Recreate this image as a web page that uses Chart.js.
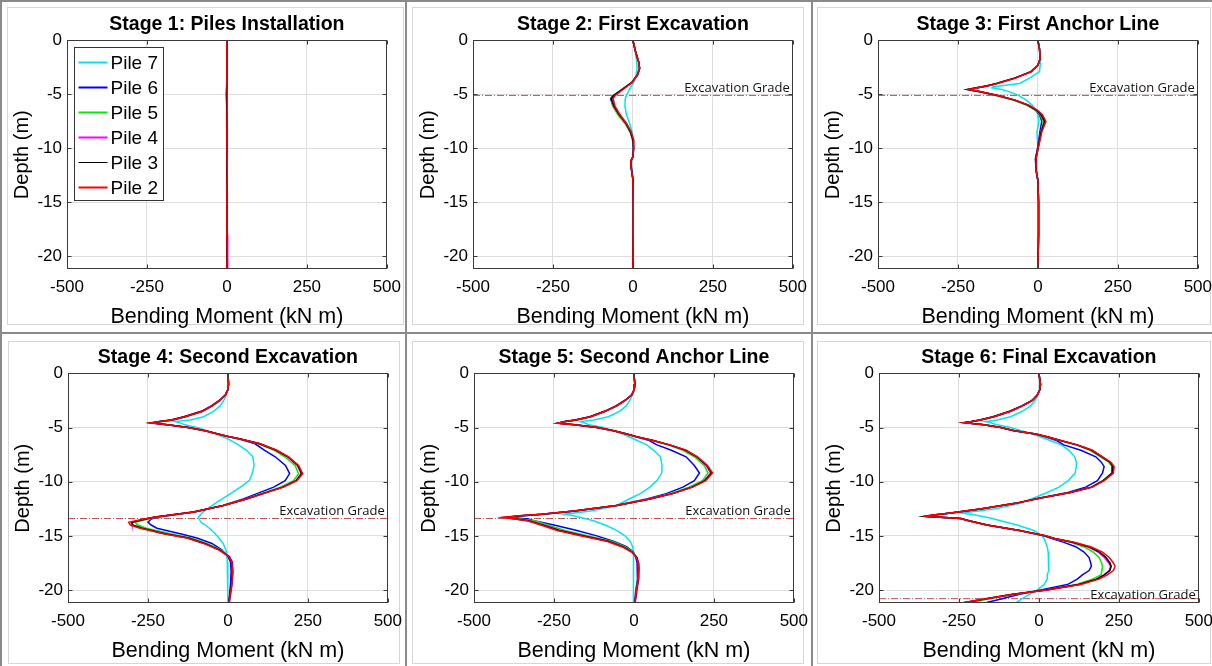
<!DOCTYPE html>
<html>
<head>
<meta charset="utf-8">
<script src="https://cdn.jsdelivr.net/npm/chart.js@4.4.0/dist/chart.umd.min.js"></script>
<style>
  html, body { margin: 0; padding: 0; background: #fff; }
  #page { position: relative; width: 1212px; height: 666px; overflow: hidden; background: #fff; }
  .frame { position: absolute; border: 1px solid #d6d6d6; box-sizing: border-box; }
  .sep { position: absolute; background: #8a8a8a; }
  canvas { position: absolute; }
</style>
</head>
<body>
<div id="page">
  <div class="frame" style="left:7px;top:7px;width:397px;height:318px"></div>
  <div class="frame" style="left:412px;top:7px;width:392px;height:318px"></div>
  <div class="frame" style="left:817px;top:7px;width:394px;height:318px"></div>
  <div class="frame" style="left:8px;top:341px;width:392px;height:323px"></div>
  <div class="frame" style="left:412px;top:341px;width:392px;height:323px"></div>
  <div class="frame" style="left:817px;top:341px;width:394px;height:323px"></div>
  <div class="sep" style="left:0;top:0;width:2px;height:666px"></div>
  <div class="sep" style="left:0;top:0;width:1212px;height:2px"></div>
  <div class="sep" style="left:405px;top:0;width:2px;height:666px"></div>
  <div class="sep" style="left:811px;top:0;width:2px;height:666px"></div>
  <div class="sep" style="left:0;top:332px;width:1212px;height:2px"></div>

  <canvas id="stage1" width="409" height="332" style="left:0px;top:0px"></canvas>
  <canvas id="stage2" width="409" height="332" style="left:406px;top:0px"></canvas>
  <canvas id="stage3" width="409" height="332" style="left:811px;top:0px"></canvas>
  <canvas id="stage4" width="409" height="333" style="left:1px;top:333px"></canvas>
  <canvas id="stage5" width="409" height="333" style="left:407px;top:333px"></canvas>
  <canvas id="stage6" width="409" height="333" style="left:812px;top:333px"></canvas>
</div>
<script>
// ---- data (bending moment in kN m, depth in m) ----
const xTicks = [-500, -250, 0, 250, 500];
const yTicks = [0, -5, -10, -15, -20];
const pileLabels = ['Pile 2', 'Pile 3', 'Pile 4', 'Pile 5', 'Pile 6', 'Pile 7'];
const stageTitles = [
    'Stage 1: Piles Installation',
    'Stage 2: First Excavation',
    'Stage 3: First Anchor Line',
    'Stage 4: Second Excavation',
    'Stage 5: Second Anchor Line',
    'Stage 6: Final Excavation'
];
const gradeDepths = [null, -5.1, -5.1, -13.4, -13.4, -20.8];

// Stage 1
const depth1 = [0, -2, -4, -5, -6, -8, -10, -12, -14, -16, -18, -20, -21.2];
const s1p2 = [0, 0, 0, 1, 1, 0, 0, 1, 0, 0, 0, 1, 0];
const s1p3 = [0, 0, 0, 0, 0, 0, 0, 0, 0, 0, -1, 0, 0];
const s1p4 = [0, 0, -1, -3, -1, 0, 0, 0, 0, 0, 1, 3, 2];
const s1p5 = [0, 0, 0, 0, 0, 1, 0, 0, 1, 0, 0, 0, 0];
const s1p6 = [0, 0, 0, 0, 0, 0, 0, 0, 0, 0, 0, 0, 0];
const s1p7 = [0, 0, 0, 0, 0, 0, 0, 0, 0, 1, 0, 0, -1];

// Stage 2
const depth2 = [0, -1, -2, -2.6, -3.2, -3.9, -4.6, -5.1, -5.4, -6.1, -6.9, -7.7, -8.5, -9.2, -10, -10.8, -11.2, -11.7, -12.9, -15, -18, -21.2];
const s2p2 = [0, 8, 18, 21, 14, -2, -33, -55, -62, -56, -40, -20, -5, 2, 3, 0, -7, -6, 0, 1, 1, 0];
const s2p3 = [0, 8, 18, 21, 14, -3, -36, -59, -68, -59, -42, -21, -7, 0, 2, 0, -7, -6, 0, 1, 1, 0];
const s2p4 = [0, 8, 18, 21, 14, -3, -35, -58, -66, -60, -43, -22, -7, 0, 2, 0, -7, -6, 0, 1, 1, 0];
const s2p5 = [0, 8, 17, 20, 13, -4, -37, -60, -68, -63, -47, -25, -9, -1, 1, 0, -7, -6, 0, 1, 1, 0];
const s2p6 = [0, 8, 18, 21, 15, -3, -37, -61, -70, -62, -44, -23, -8, -1, 1, 0, -6, -5, 0, 1, 1, 0];
const s2p7 = [0, 7, 12, 13, 10, 2, -12, -20, -24, -25, -20, -10, -3, 0, 1, 0, -4, -4, 0, 1, 1, 0];

// Stage 3
const depth3 = [0, -0.8, -1.7, -2.3, -2.9, -3.5, -4.0, -4.15, -4.3, -4.4, -4.55, -4.77, -5.08, -5.54, -6.0, -6.46, -6.9, -7.5, -8.5, -10, -11, -12, -13, -15, -18, -21.2];
const s3p2 = [0, 5, 7, 0, -20, -70, -127, -148, -170, -188, -215, -178, -127, -70, -28, -2, 14, 25, 12, 1, -6, -6, 0, 2, 2, 0];
const s3p3 = [0, 5, 7, 0, -21, -72, -129, -150, -172, -190, -219, -180, -129, -72, -31, -5, 10, 21, 10, 0, -7, -6, 0, 2, 2, 0];
const s3p4 = [0, 5, 7, 0, -21, -71, -128, -149, -171, -189, -220, -181, -130, -73, -31, -4, 12, 23, 11, 0, -7, -6, 0, 2, 2, 0];
const s3p5 = [0, 5, 7, 0, -22, -73, -131, -152, -175, -194, -222, -184, -134, -78, -36, -8, 7, 18, 9, 0, -7, -6, 0, 2, 2, 0];
const s3p6 = [0, 5, 7, 0, -22, -74, -131, -152, -174, -192, -218, -181, -130, -74, -33, -8, 5, 12, 6, -1, -8, -6, 0, 2, 2, 0];
const s3p7 = [0, 5, 8, 7, 5, -26, -57, -100, -139, -144, -113, -88, -62, -36, -18, -5, 0, 3, -3, 0, -5, -5, 0, 1, 1, 0];

// Stage 4
const depth4 = [0, -1, -1.5, -2, -2.5, -3, -3.5, -4, -4.3, -4.45, -4.57, -4.75, -5, -5.3, -5.6, -5.8, -6.05, -6.5, -7.1, -7.7,
    -8.5, -9.25, -9.9, -10.5, -11.1, -11.6, -12.2, -12.8, -13.25, -13.45, -13.75, -14, -14.3, -14.8, -15.2, -15.7, -16.3, -16.9, -17.4, -18.3,
    -19.5, -20.5, -21.2];
const s4p2 = [0, 2, 0, -8, -26, -50, -80, -135, -175, -212, -241, -191, -125, -72, -32, -3, 39, 101, 153, 190,
    221, 234, 216, 174, 111, 59, -14, -107, -227, -262, -310, -305, -274, -201, -128, -76, -29, 2, 12, 15, 12, 7, 4];
const s4p3 = [0, 2, 0, -8, -26, -50, -81, -136, -176, -213, -240, -190, -124, -71, -31, -2, 40, 100, 151, 188,
    219, 231, 214, 172, 110, 58, -14, -108, -228, -258, -300, -298, -268, -196, -124, -73, -27, 3, 12, 14, 11, 6, 3];
const s4p4 = [0, 2, 0, -8, -25, -49, -79, -133, -172, -208, -236, -188, -124, -72, -32, -3, 38, 99, 150, 186,
    217, 229, 212, 171, 109, 57, -15, -107, -226, -256, -302, -300, -270, -198, -126, -72, -25, 5, 14, 16, 13, 8, 4];
const s4p5 = [0, 2, 0, -8, -25, -49, -79, -132, -170, -205, -232, -186, -122, -70, -31, -3, 36, 95, 145, 178,
    210, 221, 205, 164, 103, 55, -16, -108, -222, -248, -290, -282, -255, -180, -115, -65, -22, 4, 12, 14, 12, 7, 4];
const s4p6 = [0, 2, 0, -8, -27, -52, -83, -138, -178, -214, -238, -189, -124, -71, -31, -4, 35, 85, 115, 148,
    180, 193, 179, 143, 91, 48, -16, -105, -215, -240, -250, -240, -222, -149, -97, -50, -19, 0, 8, 10, 8, 5, 3];
const s4p7 = [0, 2, 0, -5, -13, -24, -45, -76, -118, -165, -150, -135, -97, -65, -35, -20, 0, 28, 58, 78,
    82, 76, 67, 39, 8, -19, -50, -78, -92, -90, -84, -71, -58, -40, -28, -15, -6, -3, -2, -1, 0, 0, 0];

// Stage 5
const depth5 = [0, -1, -1.5, -2, -2.5, -3, -3.5, -4, -4.3, -4.45, -4.6, -4.75, -5, -5.3, -5.6, -5.85, -6.2, -6.6, -7.1, -7.7,
    -8.5, -9.2, -9.9, -10.5, -11.1, -11.6, -12.2, -12.7, -13.0, -13.15, -13.3, -13.45, -13.6, -14, -14.5, -15, -15.5, -16, -16.5, -17,
    -17.5, -18, -19, -20, -21.2];
const s5p2 = [0, 3, 1, -7, -28, -54, -90, -136, -182, -215, -240, -188, -116, -64, -23, 8, 60, 112, 163, 199,
    230, 246, 225, 184, 122, 50, -54, -188, -291, -360, -410, -374, -333, -291, -240, -167, -85, -38, -7, 8, 13, 15, 13, 8, 3];
const s5p3 = [0, 3, 1, -7, -28, -55, -91, -137, -183, -216, -238, -186, -115, -63, -22, 9, 61, 112, 162, 197,
    228, 243, 222, 182, 121, 50, -53, -186, -288, -355, -405, -370, -330, -286, -233, -160, -80, -35, -6, 9, 13, 15, 13, 8, 3];
const s5p4 = [0, 3, 1, -7, -27, -53, -89, -135, -180, -213, -236, -185, -115, -64, -23, 8, 59, 110, 160, 196,
    226, 240, 220, 180, 120, 49, -54, -186, -287, -352, -400, -366, -325, -282, -230, -158, -80, -34, -5, 10, 15, 17, 15, 10, 4];
const s5p5 = [0, 3, 1, -7, -27, -53, -89, -134, -178, -210, -233, -183, -114, -63, -23, 7, 57, 106, 153, 189,
    220, 232, 214, 172, 113, 46, -55, -185, -285, -350, -395, -355, -310, -270, -215, -145, -70, -28, -3, 9, 13, 14, 12, 7, 3];
const s5p6 = [0, 3, 1, -8, -29, -56, -92, -138, -184, -216, -236, -184, -114, -62, -22, 6, 48, 72, 117, 163,
    189, 205, 189, 153, 101, 40, -58, -186, -284, -345, -385, -330, -312, -250, -178, -116, -64, -23, -2, 6, 10, 12, 10, 6, 2];
const s5p7 = [0, 2, 0, -5, -13, -24, -45, -80, -125, -167, -152, -140, -95, -65, -35, -15, 10, 40, 62, 83,
    88, 87, 72, 50, 20, -15, -54, -135, -219, -188, -167, -147, -126, -90, -54, -28, -12, -4, -1, 0, -1, -2, -2, -2, -2];

// Stage 6
const depth6 = [0, -1, -1.5, -2, -2.5, -3, -3.5, -4, -4.3, -4.45, -4.55, -4.75, -5, -5.3, -5.6, -5.85, -6.2, -6.6, -7.1, -7.7,
    -8.2, -8.6, -9.2, -9.9, -10.5, -11, -11.5, -12, -12.5, -12.9, -13.05, -13.2, -13.4, -13.6, -14, -14.5, -15, -15.3, -15.6, -16,
    -16.5, -17, -17.5, -17.8, -18.2, -18.6, -19, -19.5, -20, -20.4, -20.8, -21.2];
const s6p2 = [0, 5, 3, -5, -21, -52, -89, -141, -183, -210, -235, -173, -120, -78, -10, 26, 68, 120, 167, 199,
    225, 235, 233, 204, 167, 99, 5, -73, -178, -277, -324, -361, -246, -220, -164, -61, 21, 58, 110, 162,
    199, 220, 233, 238, 233, 214, 188, 131, 26, -80, -165, -244];
const s6p3 = [0, 5, 3, -5, -21, -52, -90, -142, -184, -211, -233, -172, -119, -77, -10, 26, 68, 119, 165, 197,
    222, 231, 229, 201, 165, 98, 5, -74, -178, -275, -322, -356, -244, -219, -162, -60, 20, 56, 106, 155,
    190, 210, 222, 226, 222, 204, 180, 125, 22, -82, -165, -240];
const s6p4 = [0, 5, 3, -5, -20, -51, -88, -140, -181, -208, -232, -171, -119, -77, -10, 25, 67, 119, 166, 198,
    224, 234, 232, 203, 166, 98, 5, -73, -177, -275, -322, -358, -245, -219, -162, -60, 20, 55, 105, 152,
    185, 205, 218, 224, 220, 205, 180, 125, 24, -80, -165, -240];
const s6p5 = [0, 5, 3, -5, -20, -51, -88, -139, -180, -207, -230, -170, -118, -76, -10, 24, 65, 115, 160, 192,
    218, 229, 228, 200, 163, 96, 4, -74, -177, -274, -320, -355, -243, -218, -161, -60, 19, 52, 98, 140,
    170, 188, 196, 199, 197, 194, 167, 115, 20, -75, -155, -218];
const s6p6 = [0, 5, 3, -5, -22, -54, -92, -144, -186, -212, -233, -172, -119, -77, -12, 20, 55, 78, 131, 178,
    195, 204, 199, 183, 146, 90, 3, -75, -178, -276, -322, -358, -244, -219, -163, -62, 15, 45, 78, 115,
    141, 157, 162, 164, 157, 136, 120, 89, 5, -60, -115, -170];
const s6p7 = [0, 3, 2, -3, -12, -26, -52, -89, -131, -167, -150, -131, -89, -55, -20, 5, 35, 70, 94, 112,
    117, 117, 113, 92, 63, 26, -16, -58, -135, -240, -205, -178, -146, -120, -68, -16, 10, 17, 21, 26,
    29, 31, 31, 31, 30, 26, 26, 16, -5, -30, -52, -73];

// ---- styling ----
const FONT = '"Liberation Sans", Arial, sans-serif';
const pileColors = ['#ff0000', '#000000', '#ff00ff', '#00ee00', '#0000ff', '#00e5ee'];
const gradeColor = '#c05050';

const stages = [
    { id: 'stage1', depth: depth1, piles: [s1p2, s1p3, s1p4, s1p5, s1p6, s1p7] },
    { id: 'stage2', depth: depth2, piles: [s2p2, s2p3, s2p4, s2p5, s2p6, s2p7] },
    { id: 'stage3', depth: depth3, piles: [s3p2, s3p3, s3p4, s3p5, s3p6, s3p7] },
    { id: 'stage4', depth: depth4, piles: [s4p2, s4p3, s4p4, s4p5, s4p6, s4p7] },
    { id: 'stage5', depth: depth5, piles: [s5p2, s5p3, s5p4, s5p5, s5p6, s5p7] },
    { id: 'stage6', depth: depth6, piles: [s6p2, s6p3, s6p4, s6p5, s6p6, s6p7] }
];

// box, inner ticks, grade label and legend, drawn MATLAB style
const matlabAxes = {
    id: 'matlabAxes',
    afterDatasetsDraw(chart, args, opts) {
        const { ctx, chartArea: a, scales: { x, y } } = chart;
        ctx.save();
        ctx.strokeStyle = '#3a3a3a';
        ctx.lineWidth = 1;
        const l = Math.round(a.left) + 0.5, t = Math.round(a.top) + 0.5;
        const r = Math.round(a.right) - 0.5, b = Math.round(a.bottom) - 0.5;
        ctx.strokeRect(l, t, r - l, b - t);
        ctx.beginPath();
        xTicks.forEach(v => {
            const px = Math.round(x.getPixelForValue(v)) + 0.5;
            ctx.moveTo(px, b); ctx.lineTo(px, b - 4);
            ctx.moveTo(px, t); ctx.lineTo(px, t + 4);
        });
        yTicks.forEach(v => {
            const py = Math.round(y.getPixelForValue(v)) + 0.5;
            ctx.moveTo(l, py); ctx.lineTo(l + 4, py);
            ctx.moveTo(r, py); ctx.lineTo(r - 4, py);
        });
        ctx.stroke();

        if (opts.grade != null) {
            const gy = y.getPixelForValue(opts.grade);
            ctx.fillStyle = '#111';
            ctx.font = '13px "Open Sans", sans-serif';
            ctx.textAlign = 'right';
            ctx.textBaseline = 'middle';
            ctx.fillText('Excavation Grade', a.right - 3, gy - opts.lift);
        }

        if (opts.legend) {
            const bx = Math.round(a.left) + 7.5, by = Math.round(a.top) + 7.5;
            ctx.fillStyle = '#fff';
            ctx.fillRect(bx, by, 89, 153);
            ctx.strokeStyle = '#333';
            ctx.strokeRect(bx, by, 89, 153);
            ctx.font = '19px ' + FONT;
            ctx.textAlign = 'left';
            ctx.textBaseline = 'middle';
            const items = chart.data.datasets.filter(d => !d.isGrade).slice().reverse();
            items.forEach((d, i) => {
                const ry = by + 15 + i * 25;
                ctx.strokeStyle = d.borderColor;
                ctx.lineWidth = d.label === 'Pile 3' ? 1 : 2;
                ctx.beginPath();
                ctx.moveTo(bx + 4, ry); ctx.lineTo(bx + 33, ry);
                ctx.stroke();
                ctx.fillStyle = '#000';
                ctx.fillText(d.label, bx + 36, ry + 1);
            });
        }
        ctx.restore();
    }
};

function makeChart(stage, index) {
    const datasets = stage.piles.map((values, i) => ({
        label: pileLabels[i],
        data: values.map((m, k) => ({ x: m, y: stage.depth[k] })),
        borderColor: pileColors[i],
        borderWidth: 1.5,
        pointRadius: 0,
        showLine: true,
        tension: 0
    }));
    const grade = gradeDepths[index];
    if (grade != null) {
        datasets.push({
            label: 'Excavation Grade',
            isGrade: true,
            data: [{ x: -500, y: grade }, { x: 500, y: grade }],
            borderColor: gradeColor,
            borderWidth: 1,
            borderDash: [7, 2, 1, 2],
            pointRadius: 0,
            showLine: true
        });
    }

    new Chart(document.getElementById(stage.id), {
        type: 'scatter',
        data: { datasets },
        plugins: [matlabAxes],
        options: {
            responsive: false,
            animation: false,
            devicePixelRatio: 1,
            events: [],
            layout: { padding: { left: 0, right: 22, top: 0, bottom: 0 } },
            plugins: {
                legend: { display: false },
                tooltip: { enabled: false },
                title: {
                    display: true,
                    fullSize: false,
                    text: stageTitles[index],
                    color: '#000',
                    font: { family: FONT, size: 19.5, weight: 'bold' },
                    padding: { top: 13, bottom: 4 }
                },
                matlabAxes: { grade, lift: index === 5 ? 3.5 : 7.5, legend: index === 0 }
            },
            scales: {
                x: {
                    type: 'linear',
                    min: -500,
                    max: 500,
                    afterBuildTicks: s => { s.ticks = xTicks.map(v => ({ value: v })); },
                    afterFit: s => { s.height = 63; },
                    grid: { color: '#dddddd', drawTicks: false },
                    border: { display: false },
                    ticks: { padding: 8, color: '#000', maxRotation: 0, font: { family: FONT, size: 17 } },
                    title: {
                        display: true,
                        text: 'Bending Moment (kN m)',
                        color: '#000',
                        font: { family: FONT, size: 21.5 },
                        padding: { top: 0, bottom: 2 }
                    }
                },
                y: {
                    type: 'linear',
                    min: -21.2,
                    max: 0,
                    afterBuildTicks: s => { s.ticks = yTicks.map(v => ({ value: v })); },
                    afterFit: s => { s.width = 67; },
                    grid: { color: '#dddddd', drawTicks: false },
                    border: { display: false },
                    ticks: { padding: 5, color: '#000', font: { family: FONT, size: 17 } },
                    title: {
                        display: true,
                        text: 'Depth (m)',
                        color: '#000',
                        font: { family: FONT, size: 20 },
                        padding: { top: 10, bottom: 0 }
                    }
                }
            }
        }
    });
}

stages.forEach(makeChart);
</script>
</body>
</html>
